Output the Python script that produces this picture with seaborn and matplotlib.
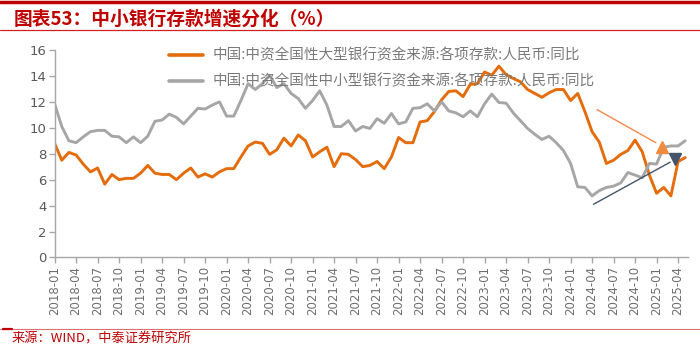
import numpy as np
import pandas as pd
import matplotlib
matplotlib.use("Agg")
import matplotlib.pyplot as plt
import seaborn as sns
from matplotlib.lines import Line2D

# ---------------- data ----------------
months = pd.date_range("2018-01-01", "2025-05-01", freq="MS").strftime("%Y-%m").tolist()

large_banks = [
    8.8, 7.5, 8.1, 7.9, 7.2, 6.6, 6.9, 5.65, 6.4, 6.0,
    6.1, 6.1, 6.5, 7.1, 6.5, 6.4, 6.4, 6.0, 6.5, 6.9,
    6.2, 6.45, 6.2, 6.6, 6.85, 6.85, 7.75, 8.6, 8.9, 8.8,
    7.95, 8.3, 9.2, 8.6, 9.45, 9.0, 7.75, 8.15, 8.5, 7.0,
    8.0, 7.95, 7.55, 7.0, 7.1, 7.4, 6.85, 7.75, 9.25, 8.85,
    8.85, 10.45, 10.55, 11.25, 12.15, 12.8, 12.85, 12.4, 13.35, 13.4,
    14.3, 14.05, 14.75, 14.1, 13.8, 13.55, 12.95, 12.65, 12.35, 12.7,
    12.95, 12.95, 12.1, 12.65, 11.25, 9.7, 8.9, 7.25, 7.5, 7.95,
    8.25, 9.05, 8.15, 6.35, 4.95, 5.4, 4.75, 7.4, 7.7,
]
small_banks = [
    11.85, 10.1, 9.0, 8.85, 9.3, 9.7, 9.8, 9.8, 9.35, 9.3,
    8.85, 9.3, 8.85, 9.35, 10.5, 10.6, 11.05, 10.8, 10.3, 10.9,
    11.5, 11.45, 11.75, 12.0, 10.9, 10.9, 12.1, 13.4, 12.95, 13.4,
    14.05, 13.1, 13.4, 12.65, 12.25, 11.5, 12.1, 12.85, 11.75, 10.1,
    10.1, 10.55, 9.75, 10.1, 9.95, 10.7, 10.35, 11.1, 10.3, 10.45,
    11.5, 11.55, 11.85, 11.3, 12.0, 11.3, 11.15, 10.85, 11.3, 10.85,
    11.85, 12.6, 11.95, 11.9, 11.15, 10.55, 9.95, 9.5, 9.1, 9.35,
    8.85, 8.25, 7.25, 5.45, 5.4, 4.75, 5.15, 5.4, 5.5, 5.75,
    6.55, 6.35, 6.15, 7.25, 7.2, 8.5, 8.6, 8.6, 9.0,
]
series_names = [
    "中国:中资全国性大型银行资金来源:各项存款:人民币:同比",
    "中国:中资全国性中小型银行资金来源:各项存款:人民币:同比",
]
tick_labels = months[::3]
y_ticks = [0, 2, 4, 6, 8, 10, 12, 14, 16]

title_text = "图表53：中小银行存款增速分化（%）"
source_text = "来源：WIND，中泰证券研究所"

# ---------------- styling ----------------
sns.set_theme(style="white")
plt.rcParams["font.family"] = ["Noto Sans CJK SC", "DejaVu Sans"]

ORANGE = "#E46C0A"
GRAY = "#A6A6A6"
RED = "#C00000"
TXT = "#595959"

df = pd.DataFrame({
    "idx": np.arange(len(months)).tolist() * 2,
    "value": large_banks + small_banks,
    "series": [series_names[0]] * len(months) + [series_names[1]] * len(months),
})

fig = plt.figure(figsize=(7.0, 3.47), dpi=100)
ax = fig.add_axes([0.078, 0.258, 0.905, 0.598])

sns.lineplot(data=df, x="idx", y="value", hue="series",
             palette=[ORANGE, GRAY], linewidth=2.1, ax=ax, legend=False)

ax.set_xlim(0, 88.4)
ax.set_ylim(0, 16)
ax.set_yticks(y_ticks)
ax.set_yticklabels([str(v) for v in y_ticks], fontsize=9.5, color=TXT,
                   family=["DejaVu Sans"])
xt = [months.index(m) for m in tick_labels]
ax.set_xticks(xt)
ax.set_xticklabels(tick_labels, rotation=90, fontsize=8.5, color="#6E6E6E",
                   family=["DejaVu Sans"])
ax.set_xlabel("")
ax.set_ylabel("")
for side in ["top", "right"]:
    ax.spines[side].set_visible(False)
for side in ["left", "bottom"]:
    ax.spines[side].set_color("#A6A6A6")
    ax.spines[side].set_linewidth(1.0)
ax.tick_params(axis="both", which="both", direction="out", length=4,
               width=1.0, color="#A6A6A6", pad=2, left=True, bottom=True)
ax.grid(False)

# annotation arrows
ax.plot([75.7, 83.9], [11.4, 8.85], color="#F4894A", linewidth=1.0)
ax.plot([84.8], [8.55], marker="^", markersize=8, color="#F08A40", linestyle="none")
ax.plot([75.2, 85.9], [4.1, 7.35], color="#44546A", linewidth=1.0)
ax.plot([86.6], [7.6], marker="v", markersize=8, color="#44546A", linestyle="none")

# legend
handles = [Line2D([], [], color=ORANGE, linewidth=2.6),
           Line2D([], [], color=GRAY, linewidth=2.6)]
leg = fig.legend(handles, series_names, loc="upper left",
                 bbox_to_anchor=(0.223, 0.899), frameon=False,
                 fontsize=10.5, handlelength=2.3, handletextpad=0.7,
                 labelspacing=0.8, labelcolor="#7A7A7A")

# title & header lines
fig.text(0.02, 0.946, title_text, color=RED, fontsize=13.5, fontweight="bold",
         fontstyle="italic", va="center", ha="left")
fig.add_artist(Line2D([0, 1], [0.994, 0.994], color=RED, linewidth=2.5,
                      transform=fig.transFigure))
fig.add_artist(Line2D([0, 1], [0.914, 0.914], color="#D42020", linewidth=0.9,
                      transform=fig.transFigure))

# footer
fig.add_artist(Line2D([0, 1], [0.052, 0.052], color="#E07070", linewidth=0.8,
                      transform=fig.transFigure))
fig.add_artist(Line2D([0.004, 0.017], [0.052, 0.052], color=RED, linewidth=1.6,
                      transform=fig.transFigure))
fig.text(0.017, 0.024, source_text, color=RED, fontsize=9.5, va="center", ha="left")

fig.savefig("out.png", dpi=100, facecolor="white")
